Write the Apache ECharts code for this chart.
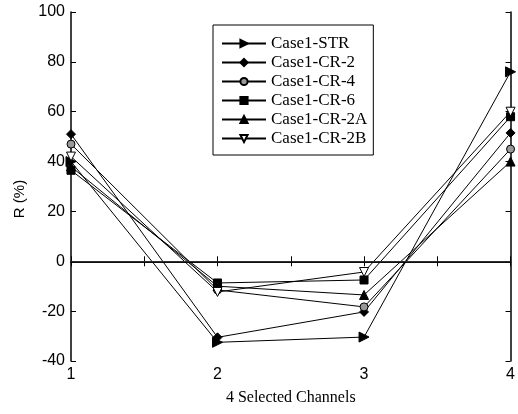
<!DOCTYPE html>
<html><head><meta charset="utf-8">
<script src="https://cdn.jsdelivr.net/npm/echarts@6/dist/echarts.min.js"></script>
<style>html,body{margin:0;padding:0;background:#fff}#c{width:518px;height:414px}</style>
</head><body><div id="c"></div>
<script>
const channels = [1, 2, 3, 4];
const seriesNames = ['Case1-STR','Case1-CR-2','Case1-CR-4','Case1-CR-6','Case1-CR-2A','Case1-CR-2B'];
const strVals  = [40, -32.5, -30.4, 76];
const cr2Vals  = [51, -30.5, -20.3, 51.5];
const cr4Vals  = [47, -11.5, -18.3, 45];
const cr6Vals  = [36.5, -8.7, -7.5, 58];
const cr2aVals = [38, -10, -13.5, 40];
const cr2bVals = [42, -12.3, -4.3, 60];
const yTicks = [-40, -20, 0, 20, 40, 60, 80, 100];

const allVals = [strVals, cr2Vals, cr4Vals, cr6Vals, cr2aVals, cr2bVals];
const symbols = [
  {symbol:'triangle', rot:-90, fill:'#000', size:10},
  {symbol:'diamond', rot:0, fill:'#000', size:9},
  {symbol:'circle', rot:0, fill:'#999', size:8},
  {symbol:'rect', rot:0, fill:'#000', size:8},
  {symbol:'triangle', rot:0, fill:'#000', size:9},
  {symbol:'triangle', rot:180, fill:'#fff', size:9}
];
const series = seriesNames.map((n,i)=>({
  name:n, type:'line', data: channels.map((c,j)=>[c, allVals[i][j]]),
  symbol: symbols[i].symbol, symbolRotate: symbols[i].rot, symbolSize: symbols[i].size,
  itemStyle:{color:symbols[i].fill, borderColor:'#000', borderWidth:1},
  lineStyle:{color:'#000', width:1},
  z: 3
}));
series.push({
  type:'line', data:[], silent:true,
  markLine:{silent:true, symbol:'none', label:{show:false},
    lineStyle:{color:'#444', width:0.6, type:'solid'}, data:[{yAxis:0}]}
});

const chart = echarts.init(document.getElementById('c'));
chart.setOption({
  animation:false,
  grid:{left:71, right:3, top:12, bottom:53},
  xAxis:[{
    type:'value', min:1, max:4, interval:0.5,
    axisLine:{lineStyle:{color:'#000', width:1.5}},
    axisTick:{inside:true, length:5, lineStyle:{color:'#000'}},
    splitLine:{show:false},
    axisLabel:{color:'#000', fontFamily:'Liberation Sans', fontSize:16, margin:6,
      formatter:v=> Number.isInteger(v) ? String(v) : ''},
    name:'4 Selected Channels', nameLocation:'middle', nameGap:29,
    nameTextStyle:{color:'#000', fontFamily:'Liberation Serif', fontSize:16}
  },{
    type:'value', min:1, max:4, interval:0.5, position:'top',
    axisLine:{lineStyle:{color:'#000', width:1.5}},
    axisTick:{inside:true, length:5, lineStyle:{color:'#000'}},
    axisLabel:{show:false}, splitLine:{show:false}
  }],
  yAxis:[{
    type:'value', min:yTicks[0], max:yTicks[yTicks.length-1], interval:20,
    axisLine:{show:true, lineStyle:{color:'#000', width:1.5}},
    axisTick:{show:true, inside:true, length:5, lineStyle:{color:'#000'}},
    splitLine:{show:false},
    axisLabel:{color:'#000', fontFamily:'Liberation Sans', fontSize:16, margin:6},
    name:'R (%)', nameLocation:'middle', nameGap:40, nameRotate:90,
    nameTextStyle:{color:'#000', fontFamily:'Liberation Sans', fontSize:15, padding:[0,0,0,-25]}
  },{
    type:'value', min:yTicks[0], max:yTicks[yTicks.length-1], interval:20, position:'right',
    axisLine:{show:true, lineStyle:{color:'#000', width:1.5}},
    axisTick:{show:true, inside:true, length:5, lineStyle:{color:'#000'}},
    axisLabel:{show:false}, splitLine:{show:false}
  }],
  legend:{
    orient:'vertical', left:213, top:25, itemWidth:44, itemHeight:9, itemGap:2,
    padding:[10,6,8,8],
    borderColor:'#000', borderWidth:1, backgroundColor:'#fff',
    textStyle:{color:'#000', fontFamily:'Liberation Serif', fontSize:17, lineHeight:17},
    data: seriesNames
  },
  series: series
});
</script></body></html>
